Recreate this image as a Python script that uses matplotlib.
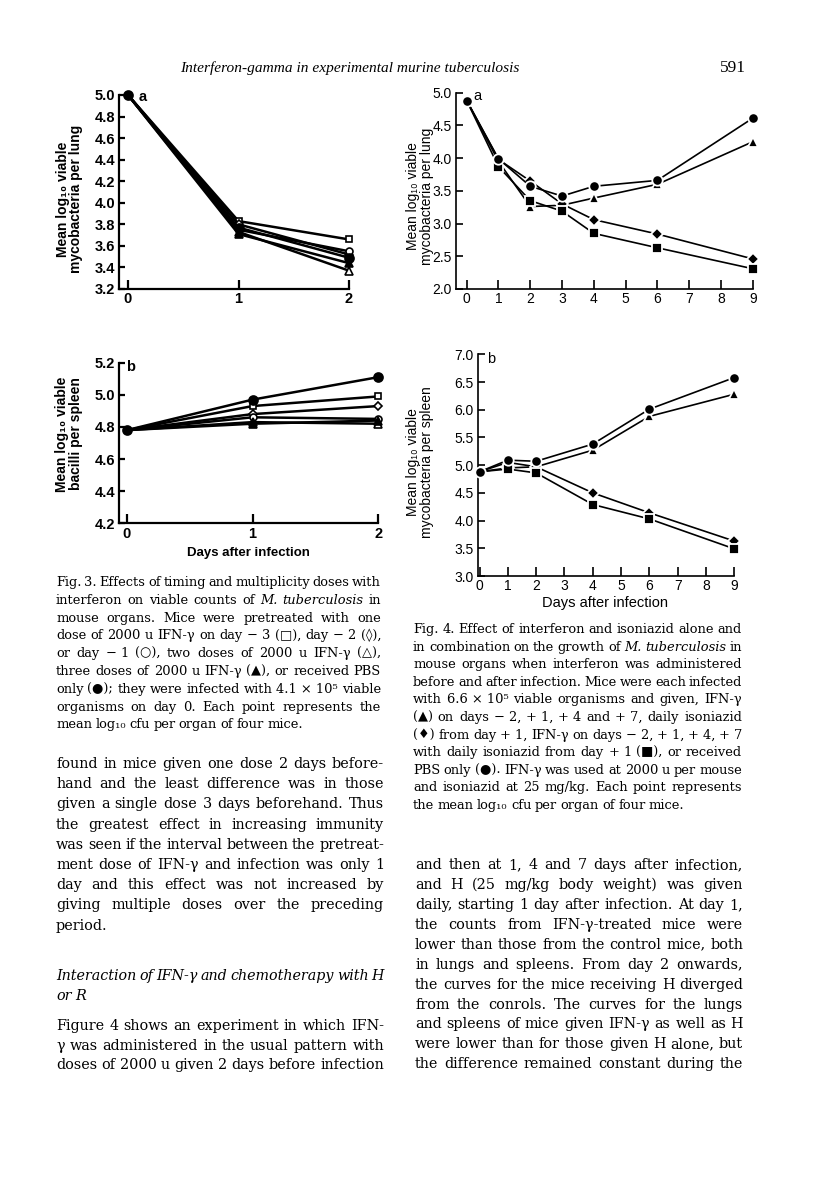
import matplotlib
matplotlib.use('Agg')
import matplotlib.pyplot as plt

# ---------------- data ----------------
fig3_days = [0, 1, 2]
# Fig 3a lungs
f3a_sq = [5.0, 3.83, 3.66]      # one dose day -3 (open square)
f3a_dia = [5.0, 3.80, 3.52]     # one dose day -2 (open diamond)
f3a_oc = [5.0, 3.75, 3.55]      # one dose day -1 (open circle)
f3a_otri = [5.0, 3.73, 3.37]    # two doses (open triangle)
f3a_ftri = [5.0, 3.71, 3.44]    # three doses (filled triangle)
f3a_pbs = [5.0, 3.77, 3.49]     # PBS (filled circle)
# Fig 3b spleens
f3b_sq = [4.78, 4.93, 4.99]
f3b_dia = [4.78, 4.88, 4.93]
f3b_oc = [4.78, 4.86, 4.85]
f3b_otri = [4.78, 4.83, 4.82]
f3b_ftri = [4.78, 4.82, 4.84]
f3b_pbs = [4.78, 4.97, 5.11]

fig4_days = [0, 1, 2, 3, 4, 6, 9]
f4a_pbs = [4.88, 3.99, 3.57, 3.42, 3.57, 3.66, 4.61]
f4a_ifn = [4.88, 3.95, 3.26, 3.28, 3.39, 3.60, 4.25]
f4a_inh = [4.88, 3.98, 3.65, 3.30, 3.06, 2.84, 2.46]
f4a_both = [4.88, 3.87, 3.35, 3.19, 2.85, 2.63, 2.31]

fig4b_days = [0, 1, 2, 4, 6, 9]
f4b_pbs = [4.88, 5.09, 5.07, 5.38, 6.01, 6.58]
f4b_ifn = [4.88, 5.05, 4.97, 5.27, 5.88, 6.28]
f4b_inh = [4.88, 4.95, 4.97, 4.50, 4.14, 3.63]
f4b_both = [4.88, 4.93, 4.86, 4.29, 4.03, 3.49]

f3a_yticks = [3.2, 3.4, 3.6, 3.8, 4.0, 4.2, 4.4, 4.6, 4.8, 5.0]
f3b_yticks = [4.2, 4.4, 4.6, 4.8, 5.0, 5.2]
f3_xticks = [0, 1, 2]
f4a_yticks = [2.0, 2.5, 3.0, 3.5, 4.0, 4.5, 5.0]
f4b_yticks = [3.0, 3.5, 4.0, 4.5, 5.0, 5.5, 6.0, 6.5, 7.0]
f4_xticks = [0, 1, 2, 3, 4, 5, 6, 7, 8, 9]

# ---------------- figure ----------------
W, H = 816, 1202
fig = plt.figure(figsize=(W / 100, H / 100), dpi=100)
fig.patch.set_facecolor('white')
renderer = fig.canvas.get_renderer()

SANS = ['Liberation Sans', 'DejaVu Sans']
SERIF = ['DejaVu Serif', 'Liberation Serif']
HEADSERIF = ['Liberation Serif', 'DejaVu Serif']


def fx(x):
    return x / W


def fy(y):
    return 1 - y / H


def make_ax(xl, xd, xp, yl, yd, yp):
    sx = (xp[1] - xp[0]) / (xd[1] - xd[0])
    left = xp[0] + (xl[0] - xd[0]) * sx
    right = xp[0] + (xl[1] - xd[0]) * sx
    sy = (yp[1] - yp[0]) / (yd[1] - yd[0])
    top = yp[0] + (yl[1] - yd[0]) * sy
    bottom = yp[0] + (yl[0] - yd[0]) * sy
    ax = fig.add_axes([left / W, 1 - bottom / H, (right - left) / W, (bottom - top) / H])
    ax.set_xlim(xl)
    ax.set_ylim(yl)
    ax.patch.set_alpha(0)
    return ax


def style_ax(ax, xt, yt, lw, ylen, xlen, fs, weight):
    for s in ['top', 'right']:
        ax.spines[s].set_visible(False)
    for s in ['left', 'bottom']:
        ax.spines[s].set_linewidth(lw)
    ax.set_xticks(xt)
    ax.set_xticklabels([str(v) for v in xt], fontsize=fs, fontweight=weight, family=SANS)
    ax.set_yticks(yt)
    ax.set_yticklabels(['%.1f' % v for v in yt], fontsize=fs, fontweight=weight, family=SANS)
    ax.tick_params(axis='y', direction='in', length=ylen, width=lw, pad=3)
    ax.tick_params(axis='x', direction='in', length=xlen, width=lw, pad=2.5)


def ylab(x, y, txt, weight, fs=10):
    fig.text(fx(x), fy(y), txt, rotation=90, fontsize=fs, fontweight=weight, family=SANS,
             ha='center', va='center', multialignment='center', linespacing=0.95)


# ---------- Fig 3a ----------
ax = make_ax((-0.08, 2.0), (0, 2), (128, 349), (3.2, 5.0), (5.0, 3.2), (95, 289))
style_ax(ax, f3_xticks, f3a_yticks, 1.6, 4.5, 6.5, 10.5, 'bold')
k3 = dict(color='black', lw=1.8, clip_on=False, markeredgecolor='black', mew=1.2)
ax.plot(fig3_days, f3a_sq, marker='s', ms=5, mfc='white', markevery=[1, 2], **k3)
ax.plot(fig3_days, f3a_dia, marker='D', ms=4, mfc='white', markevery=[1, 2], **k3)
ax.plot(fig3_days, f3a_oc, marker='o', ms=5, mfc='white', markevery=[1, 2], **k3)
ax.plot(fig3_days, f3a_otri, marker='^', ms=5.5, mfc='white', markevery=[1, 2], **k3)
ax.plot(fig3_days, f3a_ftri, marker='^', ms=5.5, mfc='black', markevery=[1, 2], **k3)
ax.plot(fig3_days, f3a_pbs, marker='o', ms=6.5, mfc='black', zorder=5, **k3)
fig.text(fx(143), fy(97), 'a', fontsize=10.5, fontweight='bold', family=SANS, va='center', ha='center')
ylab(69.5, 199, 'Mean log₁₀ viable\nmycobacteria per lung', 'bold')

# ---------- Fig 3b ----------
ax = make_ax((-0.06, 2.0), (0, 2), (126.7, 378.3), (4.2, 5.2), (5.2, 4.2), (362.7, 523.3))
style_ax(ax, f3_xticks, f3b_yticks, 1.6, 4.5, 6.5, 10.5, 'bold')
ax.plot(fig3_days, f3b_sq, marker='s', ms=5, mfc='white', markevery=[1, 2], **k3)
ax.plot(fig3_days, f3b_dia, marker='D', ms=4, mfc='white', markevery=[1, 2], **k3)
ax.plot(fig3_days, f3b_oc, marker='o', ms=5, mfc='white', markevery=[1, 2], **k3)
ax.plot(fig3_days, f3b_otri, marker='^', ms=5.5, mfc='white', markevery=[1, 2], **k3)
ax.plot(fig3_days, f3b_ftri, marker='^', ms=5.5, mfc='black', markevery=[1, 2], **k3)
ax.plot(fig3_days, f3b_pbs, marker='o', ms=6.5, mfc='black', zorder=5, **k3)
fig.text(fx(131), fy(367), 'b', fontsize=10.5, fontweight='bold', family=SANS, va='center', ha='center')
ylab(69, 434, 'Mean log₁₀ viable\nbacilli per spleen', 'bold')
fig.text(fx(248), fy(553), 'Days after infection', fontsize=9.5, fontweight='bold', family=SANS,
         ha='center', va='center')

# ---------- Fig 4a ----------
k4 = dict(color='black', lw=1.2, clip_on=False, markeredgecolor='white', mew=1.3)
ax = make_ax((-0.34, 9.0), (0, 9), (466.7, 752.7), (2.0, 5.0), (5.0, 2.0), (92.7, 289))
style_ax(ax, f4_xticks, f4a_yticks, 1.2, 5, 6.5, 10, 'normal')
ax.plot(fig4_days, f4a_pbs, marker='o', ms=7.5, mfc='black', zorder=5, **k4)
ax.plot(fig4_days, f4a_ifn, marker='^', ms=7, mfc='black', markevery=[1, 2, 3, 4, 5, 6], **k4)
ax.plot(fig4_days, f4a_inh, marker='D', ms=6.5, mfc='black', markevery=[1, 2, 3, 4, 5, 6], **k4)
ax.plot(fig4_days, f4a_both, marker='s', ms=6.5, mfc='black', markevery=[1, 2, 3, 4, 5, 6], **k4)
fig.text(fx(477), fy(96), 'a', fontsize=10.5, family=SANS, va='center', ha='center')
ylab(420, 196, 'Mean log₁₀ viable\nmycobacteria per lung', 'normal')

# ---------- Fig 4b ----------
ax = make_ax((-0.05, 9.0), (0, 9), (479.5, 734.3), (3.0, 7.0), (7.0, 3.0), (354.3, 576))
style_ax(ax, f4_xticks, f4b_yticks, 1.2, 5, 6.5, 10, 'normal')
ax.plot(fig4b_days, f4b_pbs, marker='o', ms=7.5, mfc='black', zorder=5, **k4)
ax.plot(fig4b_days, f4b_ifn, marker='^', ms=7, mfc='black', markevery=[1, 2, 3, 4, 5], **k4)
ax.plot(fig4b_days, f4b_inh, marker='D', ms=6.5, mfc='black', markevery=[1, 2, 3, 4, 5], **k4)
ax.plot(fig4b_days, f4b_both, marker='s', ms=6.5, mfc='black', markevery=[1, 2, 3, 4, 5], **k4)
fig.text(fx(491), fy(359), 'b', fontsize=10.5, family=SANS, va='center', ha='center')
ylab(420, 462, 'Mean log₁₀ viable\nmycobacteria per spleen', 'normal')
fig.text(fx(605), fy(603), 'Days after infection', fontsize=10.5, family=SANS,
         ha='center', va='center')

# ---------------- text ----------------
STY = {'r': dict(style='normal', weight='normal'),
       'i': dict(style='italic', weight='normal'),
       'b': dict(style='normal', weight='bold')}


def parse(line, base='r'):
    toks = []
    for w in line.split(' '):
        if not w:
            continue
        st = base
        if w.startswith('_'):
            st, w = 'i', w[1:]
        elif w.startswith('*'):
            st, w = 'b', w[1:]
        toks.append((w.replace('~', ' '), st))
    return toks


def word_widths(toks, size):
    objs, widths = [], []
    for w, st in toks:
        t = fig.text(0, 0, w, fontsize=size, family=SERIF, va='baseline', ha='left', **STY[st])
        objs.append(t)
        widths.append(t.get_window_extent(renderer).width)
    return objs, widths


def line_fit(ln, width, size0, base='r'):
    toks = parse(ln, base)
    objs, ws = word_widths(toks, size0)
    for o in objs:
        o.remove()
    nat = sum(ws) + (len(toks) - 1) * size0 * 100 / 72 * 0.22
    return size0 * width / nat


def jline(line, x0, x1, yb, size, justify=True, base='r'):
    toks = parse(line, base)
    objs, widths = word_widths(toks, size)
    space = size * 100 / 72 * 0.26
    if justify and len(toks) > 1:
        space = (x1 - x0 - sum(widths)) / (len(toks) - 1)
    x = x0
    for t, w in zip(objs, widths):
        t.set_position((fx(x), fy(yb)))
        x += w + space


def paragraph(lines, x0, x1, yb0, dy, size, last_justified=False, base='r'):
    for i, ln in enumerate(lines):
        just = last_justified or i < len(lines) - 1
        s = size
        if just:
            s = min(size, line_fit(ln, x1 - x0, size, base))
        jline(ln, x0, x1, yb0 + i * dy, s, justify=just, base=base)


# header
hdr = fig.text(fx(350), fy(72), 'Interferon-gamma in experimental murine tuberculosis', fontsize=11,
               style='italic', family=HEADSERIF, ha='center', va='baseline')
hw = hdr.get_window_extent(renderer).width
hdr.set_fontsize(11 * 338 / hw)
fig.text(fx(733), fy(72), '591', fontsize=12.5, family=HEADSERIF, ha='center', va='baseline')

cap3 = [
    'Fig. 3. Effects of timing and multiplicity doses with',
    'interferon on viable counts of _M. _tuberculosis in',
    'mouse organs. Mice were pretreated with one',
    'dose of 2000 u IFN-γ on day −~3 (□), day −~2 (◊),',
    'or day −~1 (○), two doses of 2000 u IFN-γ (△),',
    'three doses of 2000 u IFN-γ (▲), or received PBS',
    'only (●); they were infected with 4.1~×~10⁵ viable',
    'organisms on day 0. Each point represents the',
    'mean log₁₀ cfu per organ of four mice.',
]
cap4 = [
    'Fig. 4. Effect of interferon and isoniazid alone and',
    'in combination on the growth of _M. _tuberculosis in',
    'mouse organs when interferon was administered',
    'before and after infection. Mice were each infected',
    'with 6.6~×~10⁵ viable organisms and given, IFN-γ',
    '(▲) on days −~2, +~1, +~4 and +~7, daily isoniazid',
    '(♦) from day +~1, IFN-γ on days −~2, +~1, +~4, +~7',
    'with daily isoniazid from day +~1 (■), or received',
    'PBS only (●). IFN-γ was used at 2000 u per mouse',
    'and isoniazid at 25 mg/kg. Each point represents',
    'the mean log₁₀ cfu per organ of four mice.',
]
cap_size = 9.4
paragraph(cap3, 56, 381, 586, 17.8, cap_size)
paragraph(cap4, 413, 742, 633, 17.6, cap_size)

body_left = [
    'found in mice given one dose 2 days before-',
    'hand and the least difference was in those',
    'given a single dose 3 days beforehand. Thus',
    'the greatest effect in increasing immunity',
    'was seen if the interval between the pretreat-',
    'ment dose of IFN-γ and infection was only 1',
    'day and this effect was not increased by',
    'giving multiple doses over the preceding',
    'period.',
]
heading = [
    'Interaction of IFN-γ and chemotherapy with H',
    'or R',
]
para2 = [
    'Figure 4 shows an experiment in which IFN-',
    'γ was administered in the usual pattern with',
    'doses of 2000 u given 2 days before infection',
]
body_right = [
    'and then at 1, 4 and 7 days after infection,',
    'and H (25 mg/kg body weight) was given',
    'daily, starting 1 day after infection. At day 1,',
    'the counts from IFN-γ-treated mice were',
    'lower than those from the control mice, both',
    'in lungs and spleens. From day 2 onwards,',
    'the curves for the mice receiving H diverged',
    'from the conrols. The curves for the lungs',
    'and spleens of mice given IFN-γ as well as H',
    'were lower than for those given H alone, but',
    'the difference remained constant during the',
]
body_size = 10.4
paragraph(body_left, 56, 384, 768, 20.2, body_size)
paragraph(heading, 56, 384, 980, 20, body_size, base='i')
paragraph(para2, 56, 384, 1030, 19.6, body_size, last_justified=True)
paragraph(body_right, 415, 743, 869, 19.93, body_size, last_justified=True)

fig.savefig('out.png', dpi=100, facecolor='white')
